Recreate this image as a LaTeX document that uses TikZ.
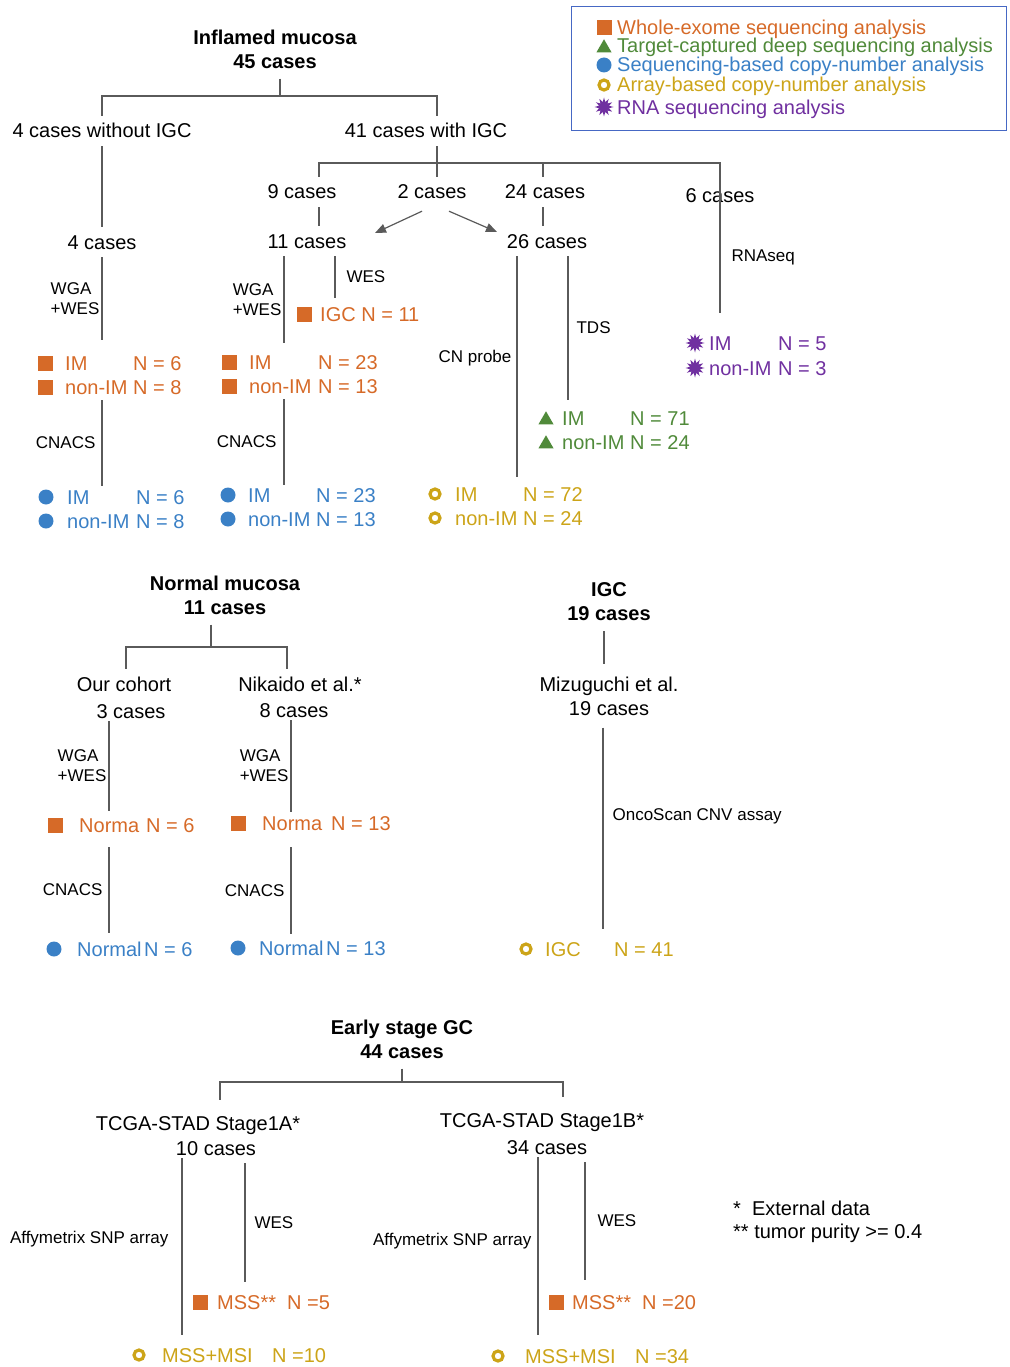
\documentclass[tikz,border=0pt]{standalone}
\usepackage{fontspec}
\setmainfont{Liberation Sans}
\usetikzlibrary{arrows.meta,positioning,shapes.geometric}

\definecolor{wesor}{RGB}{214,106,40}
\definecolor{tdsgr}{RGB}{80,138,58}
\definecolor{cnbl}{RGB}{58,128,198}
\definecolor{arrgd}{RGB}{204,164,24}
\definecolor{rnapu}{RGB}{112,48,160}
\definecolor{legbl}{RGB}{70,104,196}
\definecolor{lngr}{RGB}{90,90,90}

\tikzset{
  txt/.style={font=\fontsize{20}{24}\selectfont, inner sep=2pt, text height=15pt, text depth=1pt},
  cnode/.style={txt, inner ysep=7pt},
  stage/.style={txt, inner ysep=15pt},
  ttl/.style={font=\fontsize{20}{24}\selectfont\bfseries, align=center, inner xsep=2pt, inner ysep=10pt},
  two/.style={font=\fontsize{20}{24}\selectfont, align=center, inner xsep=2pt, inner ysep=12pt},
  meth/.style={font=\fontsize{17}{20}\selectfont, inner sep=2pt, align=left, text=black},
  lbl/.style={txt, anchor=west},
  wesl/.style={lbl, text=wesor},
  tdsl/.style={lbl, text=tdsgr},
  cnl/.style={lbl, text=cnbl},
  arrl/.style={lbl, text=arrgd},
  rnal/.style={lbl, text=rnapu},
  ln/.style={draw=lngr, line width=1.2pt},
  arw/.style={draw=lngr, line width=1.2pt, -{Triangle[length=11pt,width=9pt]}},
  wessym/.style={rectangle, fill=wesor, minimum size=15pt, inner sep=0pt},
  tdssym/.style={regular polygon, regular polygon sides=3, fill=tdsgr, minimum size=17.5pt, inner sep=0pt},
  cnsym/.style={circle, fill=cnbl, minimum size=15pt, inner sep=0pt},
  arrsym/.style={circle, draw=arrgd, line width=3.2pt, minimum size=10pt, inner sep=0pt},
  rnasym/.style={star, star points=12, star point ratio=1.9, fill=rnapu, minimum size=19pt, inner sep=0pt}
}

\begin{document}
\begin{tikzpicture}[x=1pt,y=-1pt]
\useasboundingbox (0,0) rectangle (1009,1367);

% legend
\node[draw=legbl, line width=1.3pt, minimum width=435pt, minimum height=124pt, anchor=north west, inner sep=0pt] (legend) at (571,6) {};
\node[wessym] (lgw) at (604,28) {};
\node[wesl] (lgwt) at (615,28) {Whole-exome sequencing analysis};
\node[tdssym] (lgt) at (604,48) {};
\node[tdsl] (lgtt) at (615,46) {Target-captured deep sequencing analysis};
\node[cnsym] (lgc) at (604,65) {};
\node[cnl] (lgct) at (615,65) {Sequencing-based copy-number analysis};
\node[arrsym] (lga) at (604,85) {};
\node[arrl] (lgat) at (615,85) {Array-based copy-number analysis};
\node[rnasym] (lgr) at (604,107) {};
\node[rnal] (lgrt) at (615,108) {RNA sequencing analysis};

% inflamed mucosa
\node[ttl] (inflamed) at (275,49) {Inflamed mucosa\\45 cases};
\coordinate (j0) at (280,96);
\coordinate (j1) at (437,163);
\node[cnode] (woIGC) at (102,131) {4 cases without IGC};
\node[cnode] (wIGC) at (426,131) {41 cases with IGC};
\node[cnode] (c9) at (302,192) {9 cases};
\node[cnode] (c2) at (432,192) {2 cases};
\node[cnode] (c24) at (545,192) {24 cases};
\node[cnode] (c6) at (720,196) {6 cases};
\node[cnode] (c4) at (102,242) {4 cases};
\node[cnode] (c11) at (307,241) {11 cases};
\node[cnode] (c26) at (547,241) {26 cases};
\coordinate (x9) at (319,0);
\coordinate (x24) at (543,0);
\coordinate (rna) at (720,313);

\draw[ln] (inflamed.south -| j0) -- (j0);
\draw[ln] (woIGC.north) |- (j0) -| (wIGC.north -| j1);
\draw[ln] (wIGC.south -| j1) -- (c2.north -| j1);
\draw[ln] (c9.north -| x9) |- (j1) -- (j1 -| rna) -- node[meth, right=9pt, pos=0.63] (mrna) {RNAseq} (rna);
\draw[ln] (c24.north -| x24) -- (j1 -| x24);
\draw[ln] (c9.south -| x9) -- (c11.north -| x9);
\draw[ln] (c24.south -| x24) -- (c26.north -| x24);
\draw[ln] (woIGC.south) -- (c4.north);
\coordinate (t11) at (375,233);
\coordinate (t26) at (497,232);
\draw[arw] ([xshift=-10pt,yshift=-4pt]c2.south) -- (t11);
\draw[arw] ([xshift=17pt,yshift=-4pt]c2.south) -- (t26);

% 4 cases
\coordinate (e4) at (102,340);
\coordinate (e4c) at (102,486);
\draw[ln] (c4.south) -- node[meth, left] (m4) {WGA\\+WES} (e4);
\node[wessym] (s4a) at (45,363) {};
\node[wesl] (o4a) at (63,363) {IM};
\node[wesl] (o4an) at (131,363) {N = 6};
\node[wessym] (s4b) at (45,387) {};
\node[wesl] (o4b) at (63,387) {non-IM};
\node[wesl] (o4bn) at (131,387) {N = 8};
\draw[ln] ([yshift=-3pt]o4b.south -| e4) -- node[meth, left=4pt] (m4c) {CNACS} (e4c);
\node[cnsym] (b4sa) at (46,497) {};
\node[cnl] (b4a) at (65,497) {IM};
\node[cnl] (b4an) at (134,497) {N = 6};
\node[cnsym] (b4sb) at (46,521) {};
\node[cnl] (b4b) at (65,521) {non-IM};
\node[cnl] (b4bn) at (134,521) {N = 8};

% 11 cases
\coordinate (x11l) at (284,0);
\coordinate (x11r) at (335,0);
\coordinate (e11) at (284,343);
\coordinate (e11w) at (335,298);
\coordinate (e11c) at (284,485);
\draw[ln] (c11.south -| x11l) -- node[meth, left] (m11) {WGA\\+WES} (e11);
\draw[ln] (c11.south -| x11r) -- node[meth, right=9pt] (m11w) {WES} (e11w);
\node[wessym] (s11) at (304,314) {};
\node[wesl] (igc11) at (318,314) {IGC N = 11};
\node[wessym] (s11a) at (229,362) {};
\node[wesl] (o11a) at (247,362) {IM};
\node[wesl] (o11an) at (316,362) {N = 23};
\node[wessym] (s11b) at (229,386) {};
\node[wesl] (o11b) at (247,386) {non-IM};
\node[wesl] (o11bn) at (316,386) {N = 13};
\draw[ln] ([yshift=-3pt]o11b.south -| e11) -- node[meth, left=5pt] (m11c) {CNACS} (e11c);
\node[cnsym] (b11sa) at (228,495) {};
\node[cnl] (b11a) at (246,495) {IM};
\node[cnl] (b11an) at (314,495) {N = 23};
\node[cnsym] (b11sb) at (228,519) {};
\node[cnl] (b11b) at (246,519) {non-IM};
\node[cnl] (b11bn) at (314,519) {N = 13};

% 26 cases
\coordinate (x26l) at (517,0);
\coordinate (x26r) at (568,0);
\coordinate (e26l) at (517,477);
\coordinate (e26r) at (568,400);
\draw[ln] (c26.south -| x26l) -- node[meth, left=3pt, pos=0.46] (m26l) {CN probe} (e26l);
\draw[ln] (c26.south -| x26r) -- node[meth, right=6pt] (m26r) {TDS} (e26r);
\node[tdssym] (g26sa) at (546,420) {};
\node[tdsl] (g26a) at (560,418) {IM};
\node[tdsl] (g26an) at (628,418) {N = 71};
\node[tdssym] (g26sb) at (546,444) {};
\node[tdsl] (g26b) at (560,442) {non-IM};
\node[tdsl] (g26bn) at (628,442) {N = 24};
\node[arrsym] (y26sa) at (435,494) {};
\node[arrl] (y26a) at (453,494) {IM};
\node[arrl] (y26an) at (521,494) {N = 72};
\node[arrsym] (y26sb) at (435,518) {};
\node[arrl] (y26b) at (453,518) {non-IM};
\node[arrl] (y26bn) at (521,518) {N = 24};

% 6 cases
\node[rnasym] (p6sa) at (695,343) {};
\node[rnal] (p6a) at (707,343) {IM};
\node[rnal] (p6an) at (776,343) {N = 5};
\node[rnasym] (p6sb) at (695,368) {};
\node[rnal] (p6b) at (707,368) {non-IM};
\node[rnal] (p6bn) at (776,368) {N = 3};

% normal mucosa
\node[ttl] (normal) at (225,595) {Normal mucosa\\11 cases};
\coordinate (j2) at (211,647);
\coordinate (x2l) at (126,0);
\coordinate (x2r) at (287,0);
\node[cnode] (our) at (124,684) {Our cohort};
\node[txt] (our3) at (131,711) {3 cases};
\node[cnode] (nik) at (300,684) {Nikaido et al.*};
\node[txt] (nik8) at (294,710) {8 cases};
\draw[ln] (normal.south -| j2) -- (j2);
\draw[ln] (our.north -| x2l) |- (j2) -| (nik.north -| x2r);

\coordinate (x3) at (109,0);
\coordinate (e3) at (109,811);
\coordinate (e3c) at (109,933);
\draw[ln] (our3.south -| x3) -- node[meth, left] (m3) {WGA\\+WES} (e3);
\node[wessym] (s3) at (55,825) {};
\node[wesl] (o3) at (77,825) {Norma};
\node[wesl] (o3n) at (144,825) {N = 6};
\draw[ln] ([yshift=-12pt]o3.south -| x3) -- node[meth, left=4pt] (m3c) {CNACS} (e3c);
\node[cnsym] (b3s) at (54,949) {};
\node[cnl] (b3) at (75,949) {Normal};
\node[cnl] (b3n) at (142,949) {N = 6};

\coordinate (x8) at (291,0);
\coordinate (e8) at (291,812);
\coordinate (e8c) at (291,934);
\draw[ln] (nik8.south -| x8) -- node[meth, left] (m8) {WGA\\+WES} (e8);
\node[wessym] (s8) at (238,823) {};
\node[wesl] (o8) at (260,823) {Norma};
\node[wesl] (o8n) at (329,823) {N = 13};
\draw[ln] ([yshift=-14pt]o8.south -| x8) -- node[meth, left=4pt] (m8c) {CNACS} (e8c);
\node[cnsym] (b8s) at (238,948) {};
\node[cnl] (b8) at (257,948) {Normal};
\node[cnl] (b8n) at (324,948) {N = 13};

% IGC
\node[ttl] (igc) at (609,602) {IGC\\19 cases};
\node[two] (miz) at (609,696) {Mizuguchi et al.\\19 cases};
\coordinate (xi) at (604,0);
\coordinate (xm) at (603,0);
\coordinate (em) at (603,929);
\draw[ln] (igc.south -| xi) -- (miz.north -| xi);
\draw[ln] (miz.south -| xm) -- node[meth, right=7pt, pos=0.44] (mm) {OncoScan CNV assay} (em);
\node[arrsym] (ysi) at (526,949) {};
\node[arrl] (yi) at (543,949) {IGC};
\node[arrl] (yin) at (612,949) {N = 41};

% early stage GC
\node[ttl] (early) at (402,1039) {Early stage GC\\44 cases};
\coordinate (j3) at (402,1082);
\coordinate (x3l) at (220,0);
\coordinate (x3r) at (563,0);
\node[stage] (stA) at (198,1123) {TCGA-STAD Stage1A*};
\node[txt] (stA10) at (216,1148) {10 cases};
\node[stage] (stB) at (542,1120) {TCGA-STAD Stage1B*};
\node[txt] (stB34) at (547,1147) {34 cases};
\draw[ln] (early.south) -- (j3);
\draw[ln] (stA.north -| x3l) |- (j3) -| (stB.north -| x3r);

\coordinate (xA1) at (182,0);
\coordinate (xA2) at (245,0);
\coordinate (eA1) at (182,1335);
\coordinate (eA2) at (245,1282);
\draw[ln] (stA10.south -| xA1) -- node[meth, left=11pt, pos=0.46] (mA1) {Affymetrix SNP array} (eA1);
\draw[ln] ([yshift=-5pt]stA10.south -| xA2) -- node[meth, right=7pt] (mA2) {WES} (eA2);
\node[wessym] (sA) at (200,1302) {};
\node[wesl] (oA) at (215,1302) {MSS**};
\node[wesl] (oAn) at (285,1302) {N =5};
\node[arrsym] (ysA) at (139,1355) {};
\node[arrl] (yA) at (160,1355) {MSS+MSI};
\node[arrl] (yAn) at (270,1355) {N =10};

\coordinate (xB1) at (538,0);
\coordinate (xB2) at (585,0);
\coordinate (eB1) at (538,1335);
\coordinate (eB2) at (585,1280);
\draw[ln] (stB34.south -| xB1) -- node[meth, left=4pt, pos=0.47] (mB1) {Affymetrix SNP array} (eB1);
\draw[ln] ([yshift=-5pt]stB34.south -| xB2) -- node[meth, right=10pt] (mB2) {WES} (eB2);
\node[wessym] (sB) at (556,1302) {};
\node[wesl] (oB) at (570,1302) {MSS**};
\node[wesl] (oBn) at (640,1302) {N =20};
\node[arrsym] (ysB) at (498,1356) {};
\node[arrl] (yB) at (523,1356) {MSS+MSI};
\node[arrl] (yBn) at (633,1356) {N =34};

% footnotes
\node[font=\fontsize{20}{23}\selectfont, align=left, anchor=west, inner sep=2pt] (foot) at (731,1222) {*\ \ External data\\** tumor purity >= 0.4};
\end{tikzpicture}
\end{document}
